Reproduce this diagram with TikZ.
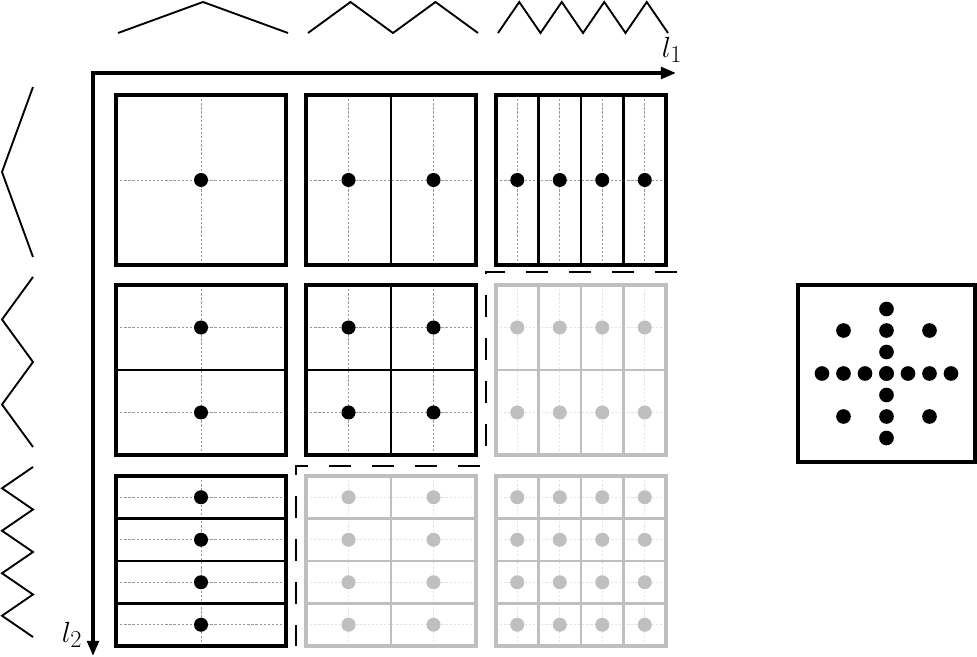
\documentclass[tikz,border=0pt]{standalone}
\usepackage{tikz}
\usetikzlibrary{arrows.meta,calc}
\definecolor{inactive}{gray}{0.75}
\tikzset{
	guide/.style={line width=0.5pt, dash pattern=on 2pt off 1.5pt},
	divider/.style={line width=1.8pt},
	border/.style={line width=3pt, line join=miter},
	wave/.style={line width=1.6pt, line join=miter},
	stair/.style={line width=1.5pt, dash pattern=on 18.7pt off 17.9pt},
	axis/.style={line width=3pt, line join=miter, arrows={Triangle[length=13pt,width=10pt]-Triangle[length=13pt,width=10pt]}}
}
% #1,#2 top left corner, #3 columns, #4 rows, #5 colour
\newcommand\cellgrid[5]{%
	\foreach \i in {1,...,#3} \draw[guide,#5!40] ({#1+(\i-0.5)*170/#3},#2) -- ++(0,170);
	\foreach \j in {1,...,#4} \draw[guide,#5!40] (#1,{#2+(\j-0.5)*170/#4}) -- ++(170,0);
	\ifnum#3>1 \foreach \i in {2,...,#3} \draw[divider,#5] ({#1+(\i-1)*170/#3},#2) -- ++(0,170); \fi
	\ifnum#4>1 \foreach \j in {2,...,#4} \draw[divider,#5] (#1,{#2+(\j-1)*170/#4}) -- ++(170,0); \fi
	\foreach \i in {1,...,#3} \foreach \j in {1,...,#4}
		\fill[#5] ({#1+(\i-0.5)*170/#3},{#2+(\j-0.5)*170/#4}) circle[radius=0.21cm];
	\draw[border,#5] (#1,#2) rectangle ++(170,170);
}
% #1 left end, #2 number of peaks
\newcommand\zigtop[2]{\draw[wave] (#1,33) \foreach \k in {1,...,#2} { -- ++({85/#2},-31) -- ++({85/#2},31) };}
\newcommand\zigleft[2]{\draw[wave] (33,#1) \foreach \k in {1,...,#2} { -- ++(-31,{85/#2}) -- ++(31,{85/#2}) };}

\begin{document}
\begin{tikzpicture}[x=0.03cm,y=-0.03cm]
		%%%%% START %%%%%
		\useasboundingbox (0,0) rectangle (977,657);
		
		% waves along l1 and l2
		\zigtop{118}{1}
		\zigtop{308}{2}
		\zigtop{498}{4}
		\zigleft{87}{1}
		\zigleft{277}{2}
		\zigleft{467}{4}
		
		% axes
		\coordinate (origin) at (93,73);
		\coordinate (l1end) at (676,73);
		\coordinate (l2end) at (93,656);
		\draw[axis] (l2end) -- (origin) -- (l1end);
		\node (labelone) at (672,50) {\Huge $l_1$};
		\node (labeltwo) at (72,635) {\Huge $l_2$};
		
		% cells
		\cellgrid{116}{95}{1}{1}{black}
		\cellgrid{306}{95}{2}{1}{black}
		\cellgrid{496}{95}{4}{1}{black}
		\cellgrid{116}{285}{1}{2}{black}
		\cellgrid{306}{285}{2}{2}{black}
		\cellgrid{496}{285}{4}{2}{inactive}
		\cellgrid{116}{476}{1}{4}{black}
		\cellgrid{306}{476}{2}{4}{inactive}
		\cellgrid{496}{476}{4}{4}{inactive}
		
		% boundary of the used cells
		\draw[stair] (677,272) -| (486,456);
		\draw[stair] (480,466) -| (296,646);
		
		% stencil
		\draw[border] (798,285) rectangle (975,462);
		\coordinate (centre) at (886.5,373.5);
		\foreach \k in {-3,...,3} {
			\fill ($(centre)+(\k*21.5,0)$) circle[radius=0.22cm];
			\fill ($(centre)+(0,\k*21.5)$) circle[radius=0.22cm];
		}
		\foreach \sx/\sy in {-1/-1,1/-1,-1/1,1/1}
			\fill ($(centre)+(\sx*43,\sy*43)$) circle[radius=0.22cm];
		%%%%% END %%%%%
\end{tikzpicture}
\end{document}
